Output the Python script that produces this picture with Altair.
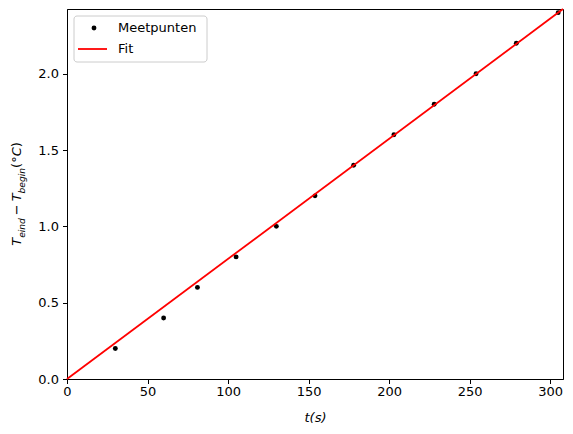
import altair as alt
import pandas as pd

# measured points (t in s, temperature rise in degC)
t_meet = [30, 60, 81, 105, 130, 154, 178, 203, 228, 254, 279, 305]
dT_meet = [0.2, 0.4, 0.6, 0.8, 1.0, 1.2, 1.4, 1.6, 1.8, 2.0, 2.2, 2.4]

# fitted line endpoints
t_fit = [0, 308]
dT_fit = [0, 2.424]

x_ticks = [0, 50, 100, 150, 200, 250, 300]
y_ticks = [0.0, 0.5, 1.0, 1.5, 2.0]

legend_labels = ["Meetpunten", "Fit"]

# y-axis title pieces (matplotlib mathtext with subscripts)
ylabel_txt = ["T", "eind", "\u2212", "T", "begin", "(\u00b0", "C", ")"]
ylabel_sub = [False, True, False, False, True, False, False, False]
ylabel_ital = [True, True, False, True, True, False, True, False]
ylabel_pos = [236.7, 228.8, 206.2, 192.3, 184.4, 158.9, 147.3, 138.2]

FONT = "DejaVu Sans"

meet = pd.DataFrame({"t": t_meet, "dT": dT_meet})
fit = pd.DataFrame({"t": t_fit, "dT": dT_fit})
one = pd.DataFrame({"a": [0]})

x_enc = alt.X("t:Q").scale(domain=[0, 308], nice=False, zero=False).axis(
    values=x_ticks, title="t(s)", titleFontStyle="italic", titleFontWeight="normal",
    titleFontSize=13, titlePadding=13, labelPadding=2, labelFlush=False,
)
y_enc = alt.Y("dT:Q").scale(domain=[0, 2.424], nice=False).axis(
    values=y_ticks, format=".1f", title=None, labelPadding=4, labelFlush=False,
)

points = alt.Chart(meet).mark_circle(size=24, opacity=1, color="black").encode(x_enc, y_enc)
line = alt.Chart(fit).mark_line(strokeWidth=1.8, color="red").encode(x="t:Q", y="dT:Q")

layers = [points, line]

for txt, sub, ital, pos in zip(ylabel_txt, ylabel_sub, ylabel_ital, ylabel_pos):
    layers.append(
        alt.Chart(one).mark_text(
            angle=270, align="left", baseline="alphabetic", font=FONT, color="black",
            fontSize=9.1 if sub else 13, fontStyle="italic" if ital else "normal",
        ).encode(
            x=alt.value(-42.5 if sub else -46.5), y=alt.value(pos), text=alt.value(txt)
        )
    )

# legend box, handles and labels
layers.append(
    alt.Chart(one).mark_rect(
        fill="white", fillOpacity=0.8, stroke="#cccccc", strokeWidth=1, cornerRadius=3
    ).encode(x=alt.value(7), x2=alt.value(140), y=alt.value(7), y2=alt.value(53))
)
layers.append(
    alt.Chart(one).mark_circle(size=24, opacity=1, color="black").encode(
        x=alt.value(27), y=alt.value(19)
    )
)
layers.append(
    alt.Chart(one).mark_rule(color="red", strokeWidth=1.8).encode(
        x=alt.value(11), x2=alt.value(40), y=alt.value(40)
    )
)
for lab, ypos in zip(legend_labels, [19, 40]):
    layers.append(
        alt.Chart(one).mark_text(
            align="left", baseline="middle", font=FONT, fontSize=13, color="black"
        ).encode(x=alt.value(51), y=alt.value(ypos), text=alt.value(lab))
    )

chart = alt.layer(*layers).properties(
    width=496, height=370,
    autosize=alt.AutoSizeParams(type="none"),
    padding={"left": 59, "top": 1, "right": 1, "bottom": 46},
).configure_view(
    stroke="black", strokeWidth=1
).configure_axis(
    grid=False, domainColor="black", tickColor="black", tickSize=4.5,
    labelFont=FONT, labelFontSize=13, labelColor="black",
    titleFont=FONT, titleColor="black",
)

chart.save("out.html", embed_options={"renderer": "svg", "actions": False})
